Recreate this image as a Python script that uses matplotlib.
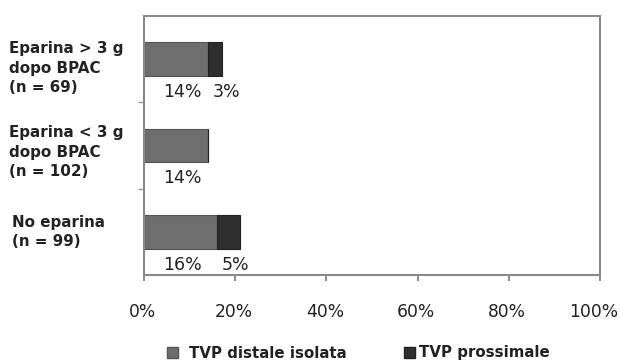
import matplotlib.pyplot as plt
from matplotlib.patches import Patch
from matplotlib.ticker import FixedLocator
from matplotlib.transforms import ScaledTranslation

plt.rcParams["font.family"] = ["DejaVu Sans"]

categories = ["Eparina > 3 g\ndopo BPAC\n(n = 69)",
              "Eparina < 3 g\ndopo BPAC\n(n = 102)",
              "No eparina\n(n = 99)"]
distale = [14, 14, 16]
prossimale = [3, 0, 5]
series_names = ["TVP distale isolata", "TVP prossimale"]
xticks = [0, 20, 40, 60, 80, 100]

col_dist = "#6e6e6e"
col_pros = "#2e2e2e"
text_col = "#222222"

fig = plt.figure(figsize=(6.2, 3.64), dpi=100)
ax = fig.add_axes([144/620, 1 - 275/364, 456/620, 259/364])

y = list(range(len(categories)))
ax.barh(y, distale, height=0.39, color=col_dist, edgecolor="#555555", linewidth=0.8)
ax.barh(y, prossimale, left=distale, height=0.39, color=col_pros,
        edgecolor="#222222", linewidth=0.8)

ax.set_xlim(0, 100)
ax.set_ylim(2.5, -0.5)

# value labels under each bar
for i in y:
    ax.text(8.5, i + 0.38, f"{distale[i]}%", ha="center", va="center",
            fontsize=12.5, color=text_col)
    if prossimale[i]:
        ax.text(distale[i] + 4.0, i + 0.38, f"{prossimale[i]}%",
                ha="center", va="center", fontsize=12.5, color=text_col)

ax.set_xticks(xticks)
ax.set_xticklabels([f"{t}%" for t in xticks], fontsize=12.3, color=text_col)
ax.tick_params(axis="x", length=4, width=1.2, color="#777777", pad=16)
for k, lbl in enumerate(ax.get_xticklabels()):
    dx = -6 if k == len(xticks) - 1 else -1.5
    lbl.set_transform(lbl.get_transform() + ScaledTranslation(dx / 100, 0, fig.dpi_scale_trans))
ax.set_yticks([])
ax.yaxis.set_minor_locator(FixedLocator([0.5, 1.5]))
ax.tick_params(axis="y", which="minor", length=4, width=1, color="#999999")

for s in ax.spines.values():
    s.set_color("#8a8a8a")
    s.set_linewidth(1.5)

# category labels
label_y = [68, 152, 232]
label_x = [9, 9, 12]
for lab, ly, lx in zip(categories, label_y, label_x):
    fig.text(lx / 620, 1 - ly / 364, lab, ha="left", va="center", fontsize=10.9,
             fontweight="bold", color=text_col, linespacing=1.37)

handles = [Patch(facecolor=col_dist, edgecolor="#555555"),
           Patch(facecolor=col_pros, edgecolor="#222222")]
leg_x = [167, 404]
leg_pad = [0.75, 0.3]
for h, name, lx, pad in zip(handles, series_names, leg_x, leg_pad):
    fig.legend([h], [name], loc="center left", bbox_to_anchor=(lx / 620, 1 - 353/364),
               frameon=False, prop={"weight": "bold", "size": 10.8},
               handlelength=0.72, handleheight=0.72, handletextpad=pad,
               borderpad=0.0, borderaxespad=0.0, labelcolor=text_col)

fig.savefig("out.png", dpi=100)
